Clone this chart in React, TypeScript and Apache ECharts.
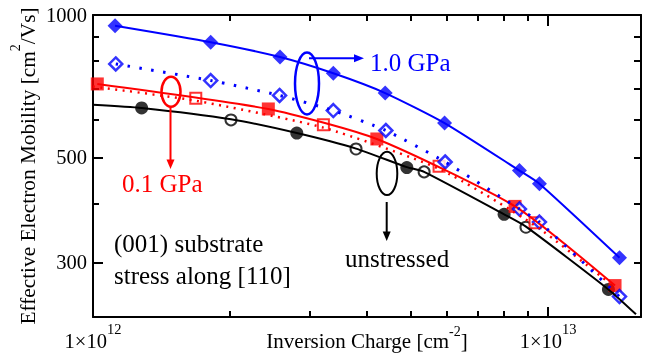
import React, { useEffect, useRef } from 'react';
import * as echarts from 'echarts';

const FONT = 'Liberation Serif';
const BLUE = '#0000ff';
const RED = '#ff0000';
const BLACK = '#000000';

// ---- data (inversion charge [cm^-2], mobility [cm^2/Vs]) ----
const blueFilledX = [1.118e12, 1.814e12, 2.576e12, 3.373e12, 4.385e12, 5.923e12, 8.65e12, 9.57e12, 1.435e13];
const blueFilledY = [949, 876, 815, 753, 684, 591, 469, 440, 307];
const blueOpenX = [1.122e12, 1.814e12, 2.57e12, 3.373e12, 4.4e12, 5.94e12, 8.65e12, 9.57e12, 1.435e13];
const blueOpenY = [788, 727, 676, 628, 570, 489, 389, 365, 254];
const redFilledX = [1.022e12, 2.428e12, 4.204e12, 8.46e12, 1.403e13];
const redFilledY = [715, 633, 547, 394, 268];
const redOpenX = [1.682e12, 3.208e12, 5.76e12, 9.36e12];
const redOpenY = [667, 586, 479, 364];
const redDotX = [1.0e12, 1.682e12, 3.208e12, 5.76e12, 9.36e12, 1.34e13];
const redDotY = [706, 659, 578, 473, 359, 275];
const blackFilledX = [1.279e12, 2.804e12, 4.893e12, 8.005e12, 1.357e13];
const blackFilledY = [636, 563, 476, 379, 263];
const blackOpenX = [2.01e12, 3.784e12, 5.34e12, 8.94e12];
const blackOpenY = [600, 521, 466, 356];
const blackFitX = [1.0e12, 1.279e12, 2.01e12, 2.804e12, 3.784e12, 4.893e12, 5.34e12, 8.005e12, 8.94e12, 1.357e13, 1.56e13];
const blackFitY = [646, 636, 602, 563, 522, 477, 466, 379, 357, 263, 233];

// ---- axes ----
const X_MIN = 1e12;
const X_MAX = 1.6e13;
const Y_MIN = 230;
const Y_MAX = 1000;
const xMajorTicks = [1e12, 1e13];
const xTopMajorTicks = [1e13];
const xMinorTicks = [2e12, 3e12, 4e12, 5e12, 6e12, 7e12, 8e12, 9e12];
const yMajorTicks = [300, 500, 1000];
const yMinorTicks = [400, 600, 700, 800, 900];
const yRightTicks = [300, 400, 500, 600, 700, 800, 900];

const zip = (xs: number[], ys: number[]) => xs.map((x, i) => [x, ys[i]]);

export default function App() {
  const ref = useRef<HTMLDivElement>(null);
  useEffect(() => {
    const chart = echarts.init(ref.current!, null, { renderer: 'svg' });
    const axLine = { color: BLACK, width: 2 };
    const hidden = {
      axisLine: { show: false },
      axisTick: { show: false },
      axisLabel: { show: false },
      splitLine: { show: false },
    };
    const xBase = { type: 'log', logBase: 10, min: X_MIN, max: X_MAX };
    const yBase = { type: 'log', logBase: 10, min: Y_MIN, max: Y_MAX };
    // superscript rich text: line height L sets the raise of the superscript
    const supRich = (main: number, sup: number, L: number) => ({
      a: { fontFamily: FONT, fontSize: main, color: BLACK, lineHeight: main, verticalAlign: 'bottom' },
      b: { fontFamily: FONT, fontSize: sup, color: BLACK, lineHeight: L, verticalAlign: 'top' },
    });

    const option: any = {
      animation: false,
      grid: { left: 93, top: 15, right: 7, bottom: 39, containLabel: false, outerBoundsMode: 'none' },
      xAxis: [
        {
          ...xBase,
          position: 'bottom',
          axisLine: { show: true, onZero: false, lineStyle: axLine },
          axisTick: { show: true, inside: true, length: 10, customValues: xMajorTicks, lineStyle: axLine },
          axisLabel: {
            show: true,
            customValues: xMajorTicks,
            margin: 4,
            formatter: (v: number) => `{a|1×10}{b|${Math.round(Math.log10(v))}}`,
            rich: supRich(20.5, 14.5, 30.5),
          },
          splitLine: { show: false },
          name: '{a|Inversion Charge [cm}{b|-2}{a|]}',
          nameLocation: 'middle',
          nameGap: 7,
          nameMoveOverlap: false,
          nameTextStyle: { rich: supRich(21, 14, 27.5) },
        },
        { ...xBase, position: 'bottom', ...hidden, axisTick: { show: true, inside: true, length: 6, customValues: xMinorTicks, lineStyle: axLine } },
        {
          ...xBase,
          position: 'top',
          ...hidden,
          axisLine: { show: true, onZero: false, lineStyle: axLine },
          axisTick: { show: true, inside: true, length: 11, customValues: xTopMajorTicks, lineStyle: axLine },
        },
        { ...xBase, position: 'top', ...hidden, axisTick: { show: true, inside: true, length: 6, customValues: xMinorTicks, lineStyle: axLine } },
      ],
      yAxis: [
        {
          ...yBase,
          position: 'left',
          axisLine: { show: true, onZero: false, lineStyle: axLine },
          axisTick: { show: true, inside: true, length: 10, customValues: yMajorTicks, lineStyle: axLine },
          axisLabel: {
            show: true,
            customValues: yMajorTicks,
            margin: 6,
            fontFamily: FONT,
            fontSize: 20.5,
            color: BLACK,
            formatter: (v: number) => String(Math.round(v)),
          },
          splitLine: { show: false },
          name: '{a|Effective Electron Mobility [cm}{b|2}{a|/Vs]}',
          nameLocation: 'middle',
          nameRotate: 90,
          nameGap: 54.5,
          nameMoveOverlap: false,
          nameTextStyle: { rich: supRich(21.3, 14, 30.5) },
        },
        { ...yBase, position: 'left', ...hidden, axisTick: { show: true, inside: true, length: 6, customValues: yMinorTicks, lineStyle: axLine } },
        {
          ...yBase,
          position: 'right',
          ...hidden,
          axisLine: { show: true, onZero: false, lineStyle: axLine },
          axisTick: { show: true, inside: true, length: 7, customValues: yRightTicks, lineStyle: axLine },
        },
      ],
      series: [
        { type: 'line', data: zip(blackFitX, blackFitY), symbol: 'none', smooth: 0.2, lineStyle: { color: BLACK, width: 2 } },
        { type: 'scatter', data: zip(blackOpenX, blackOpenY), symbol: 'circle', symbolSize: 11, itemStyle: { color: '#fff', borderColor: BLACK, borderWidth: 2 } },
        { type: 'scatter', data: zip(blackFilledX, blackFilledY), symbol: 'circle', symbolSize: 13, itemStyle: { color: BLACK } },
        { type: 'line', data: zip(redDotX, redDotY), symbol: 'none', smooth: 0.2, lineStyle: { color: RED, width: 2.5, type: [2, 5.5] } },
        { type: 'line', data: zip(redFilledX, redFilledY), symbol: 'none', smooth: 0.2, lineStyle: { color: RED, width: 2 } },
        { type: 'scatter', data: zip(redOpenX, redOpenY), symbol: 'rect', symbolSize: 11, itemStyle: { color: '#fff', borderColor: RED, borderWidth: 2 } },
        { type: 'scatter', data: zip(redFilledX, redFilledY), symbol: 'rect', symbolSize: 13, itemStyle: { color: RED } },
        { type: 'line', data: zip(blueOpenX, blueOpenY), symbol: 'none', smooth: 0.2, lineStyle: { color: BLUE, width: 3, type: [2.5, 9.5] } },
        { type: 'scatter', data: zip(blueOpenX, blueOpenY), symbol: 'diamond', symbolSize: 13, itemStyle: { color: '#fff', borderColor: BLUE, borderWidth: 2.5 } },
        { type: 'line', data: zip(blueFilledX, blueFilledY), symbol: 'none', smooth: 0.2, lineStyle: { color: BLUE, width: 2 } },
        { type: 'scatter', data: zip(blueFilledX, blueFilledY), symbol: 'diamond', symbolSize: 15, itemStyle: { color: BLUE } },
      ],
      graphic: [
        { type: 'ellipse', z: 100, shape: { cx: 307, cy: 83.5, rx: 12, ry: 31 }, style: { fill: 'none', stroke: BLUE, lineWidth: 2.5 } },
        { type: 'line', z: 100, shape: { x1: 309, y1: 58.3, x2: 356, y2: 58.3 }, style: { stroke: BLUE, lineWidth: 2 } },
        { type: 'polygon', z: 100, shape: { points: [[364, 58.3], [354, 54.3], [354, 62.3]] }, style: { fill: BLUE } },
        { type: 'text', z: 100, x: 370, y: 62, style: { text: '1.0 GPa', font: `25px "${FONT}"`, fill: BLUE, align: 'left', verticalAlign: 'middle' } },

        { type: 'ellipse', z: 100, shape: { cx: 171, cy: 91.7, rx: 9.5, ry: 15 }, style: { fill: 'none', stroke: RED, lineWidth: 2.5 } },
        { type: 'line', z: 100, shape: { x1: 170.5, y1: 107, x2: 170.5, y2: 161 }, style: { stroke: RED, lineWidth: 2 } },
        { type: 'polygon', z: 100, shape: { points: [[170.5, 169], [166.5, 159.5], [174.5, 159.5]] }, style: { fill: RED } },
        { type: 'text', z: 100, x: 122, y: 183.5, style: { text: '0.1 GPa', font: `25px "${FONT}"`, fill: RED, align: 'left', verticalAlign: 'middle' } },

        { type: 'ellipse', z: 100, shape: { cx: 387, cy: 173.4, rx: 10.3, ry: 21.7 }, style: { fill: 'none', stroke: BLACK, lineWidth: 2 } },
        { type: 'line', z: 100, shape: { x1: 386.7, y1: 202, x2: 386.7, y2: 233 }, style: { stroke: BLACK, lineWidth: 2 } },
        { type: 'polygon', z: 100, shape: { points: [[386.7, 241], [382.7, 231.5], [390.7, 231.5]] }, style: { fill: BLACK } },
        { type: 'text', z: 100, x: 345, y: 258.3, style: { text: 'unstressed', font: `25px "${FONT}"`, fill: BLACK, align: 'left', verticalAlign: 'middle' } },

        { type: 'text', z: 100, x: 114, y: 243.5, style: { text: '(001) substrate', font: `25px "${FONT}"`, fill: BLACK, align: 'left', verticalAlign: 'middle' } },
        { type: 'text', z: 100, x: 114, y: 275.6, style: { text: 'stress along [110]', font: `25px "${FONT}"`, fill: BLACK, align: 'left', verticalAlign: 'middle' } },
      ],
    };
    chart.setOption(option);
    return () => chart.dispose();
  }, []);
  return <div ref={ref} style={{ position: 'fixed', left: 0, top: 0, width: 648, height: 356 }} />;
}
